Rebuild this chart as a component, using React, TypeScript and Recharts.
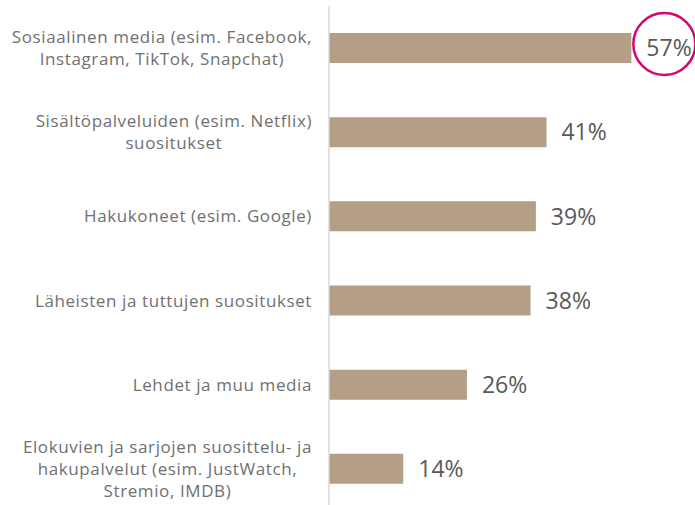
import { BarChart, Bar, XAxis, YAxis, LabelList } from 'recharts';

const categories = [
  ['Sosiaalinen media (esim. Facebook,', 'Instagram, TikTok, Snapchat)'],
  ['Sisältöpalveluiden (esim. Netflix)', 'suositukset'],
  ['Hakukoneet (esim. Google)'],
  ['Läheisten ja tuttujen suositukset'],
  ['Lehdet ja muu media'],
  ['Elokuvien ja sarjojen suosittelu- ja', 'hakupalvelut (esim. JustWatch,', 'Stremio, IMDB)'],
];
const values = [57, 41, 39, 38, 26, 14];
const highlighted = [true, false, false, false, false, false];

const data = categories.map((lines, i) => ({
  name: lines.join(' '),
  lines,
  value: values[i],
  highlight: highlighted[i],
}));

const FONT = '"Open Sans", "Noto Sans", sans-serif';
const LABEL_SIZE = 17;
const LABEL_SPACING = 0.6;

let ctx: CanvasRenderingContext2D | null = null;
const measure = (s: string) => {
  if (!ctx) ctx = document.createElement('canvas').getContext('2d');
  if (!ctx) return s.length * 8.5;
  ctx.font = `${LABEL_SIZE}px "Open Sans"`;
  return ctx.measureText(s).width + LABEL_SPACING * s.length;
};

const CategoryTick = (props: any) => {
  const { x, y, payload } = props;
  const row = data.find((d) => d.name === payload.value);
  const lines = row ? row.lines : [payload.value];
  const w = Math.max(...lines.map(measure));
  const cx = x - 9 - w / 2;
  const lh = 22;
  const top = y - ((lines.length - 1) * lh) / 2;
  return (
    <text
      textAnchor="middle"
      fontFamily={FONT}
      fontSize={LABEL_SIZE}
      letterSpacing={LABEL_SPACING}
      fill="#707070"
    >
      {lines.map((l: string, i: number) => (
        <tspan key={i} x={cx} y={top + i * lh} dy="0.35em">
          {l}
        </tspan>
      ))}
    </text>
  );
};

const ValueLabel = (props: any) => {
  const { x, y, width, height, value, index } = props;
  const tx = x + width + 15;
  const ty = y + height / 2;
  return (
    <g>
      <text x={tx} y={ty} dy="0.36em" fontFamily={FONT} fontSize={23} fill="#595959">
        {value}%
      </text>
      {data[index].highlight && (
        <circle cx={tx + 18} cy={ty - 4} r={31} fill="none" stroke="#d6066f" strokeWidth={2.5} />
      )}
    </g>
  );
};

export default function App() {
  return (
    <div style={{ position: 'fixed', left: 0, top: 0, width: 695, height: 505, overflow: 'hidden', background: '#fff' }}>
      <BarChart
        width={695}
        height={511}
        data={data}
        layout="vertical"
        margin={{ top: 6, right: 0, bottom: 0, left: 0 }}
        barCategoryGap={0}
      >
        <XAxis type="number" domain={[0, 69]} hide />
        <YAxis
          type="category"
          dataKey="name"
          width={329}
          axisLine={{ stroke: '#d9d9d9', strokeWidth: 1.5 }}
          tickLine={false}
          tick={<CategoryTick />}
          interval={0}
        />
        <Bar dataKey="value" fill="#b49e86" barSize={30} isAnimationActive={false}>
          <LabelList dataKey="value" content={<ValueLabel />} />
        </Bar>
      </BarChart>
    </div>
  );
}
